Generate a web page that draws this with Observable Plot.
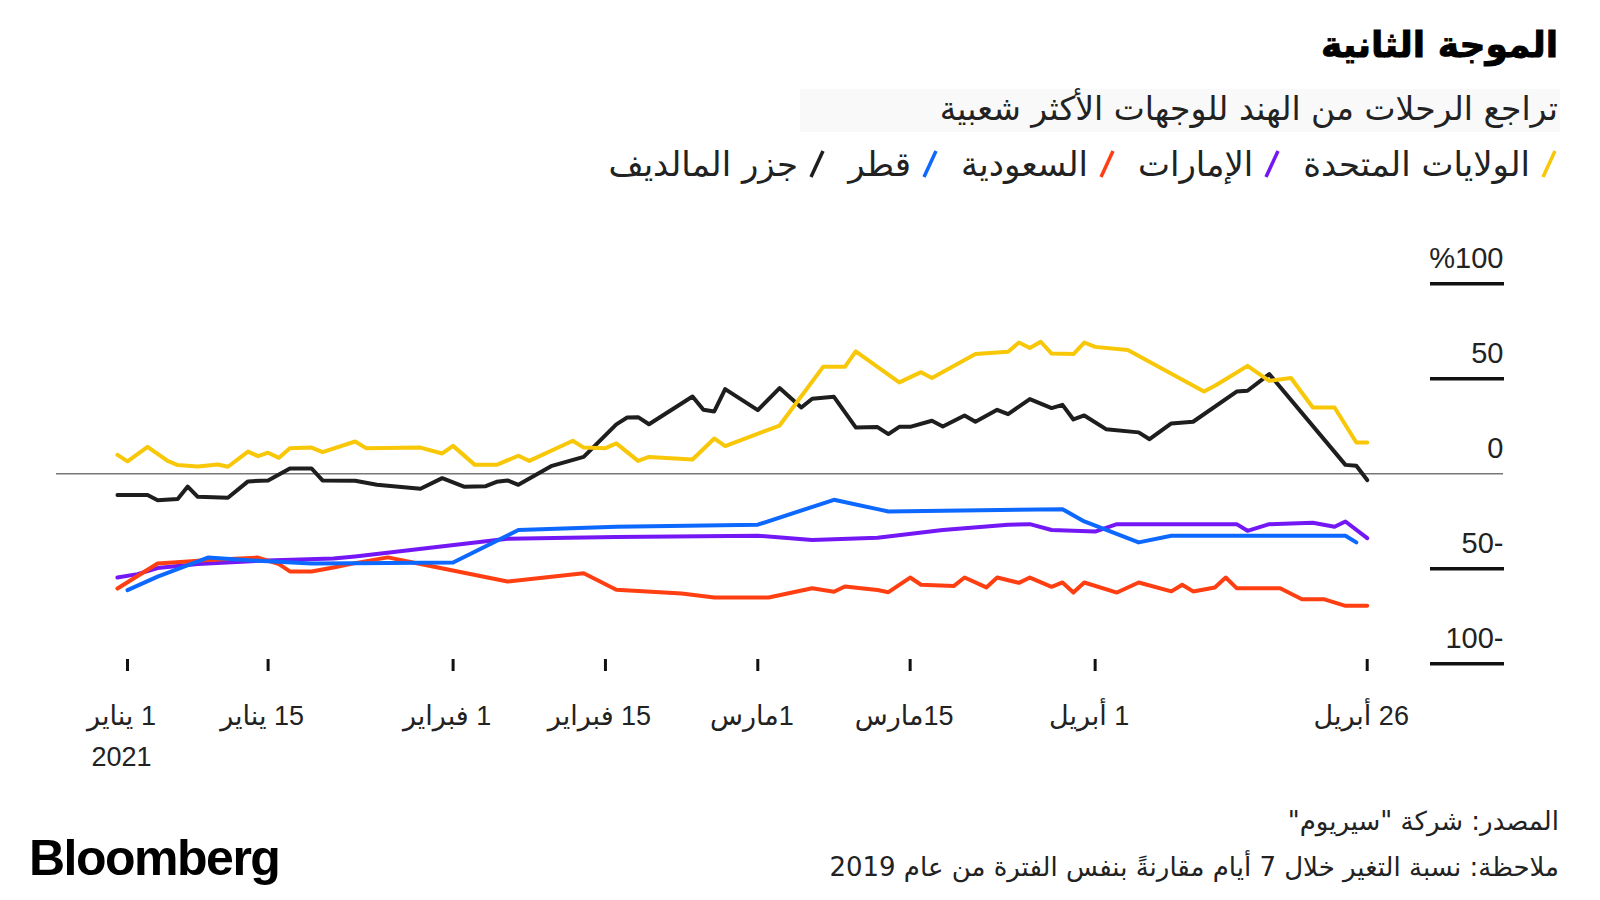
<!DOCTYPE html>
<html lang="ar">
<head>
<meta charset="utf-8">
<script src="https://cdn.jsdelivr.net/npm/d3@7"></script>
<script src="https://cdn.jsdelivr.net/npm/@observablehq/plot@0.6"></script>
<style>
  body { margin: 0; background: #fff; }
  #wrap { position: relative; width: 1600px; height: 900px; overflow: hidden; font-family: "DejaVu Sans", sans-serif; color: #111; }
  #chart { position: absolute; left: 0; top: 0; }
  .t { position: absolute; white-space: nowrap; line-height: 1; direction: rtl; }
  #title { right: 42px; top: 27px; font-size: 36px; font-weight: bold; color: #000; -webkit-text-stroke: 0.9px #000; }
  #subtitle { right: 42px; top: 92px; font-size: 33px; color: #222; }
  #subbg { position: absolute; left: 800px; top: 89px; width: 760px; height: 43px; background: #f9f9f9; }
  #legend { right: 42px; top: 147px; font-size: 34px; color: #222; display: flex; gap: 22px; align-items: center; }
  #legend .it { display: flex; align-items: center; gap: 10px; }
  #legend svg { width: 18px; height: 32px; display: block; }
  #source { right: 41px; top: 808px; font-size: 26px; color: #222; }
  #note { right: 41px; top: 854px; font-size: 26px; color: #222; }
  #logo { position: absolute; left: 29px; top: 833px; font-family: "Liberation Sans", Arial, sans-serif; font-weight: bold; font-size: 50px; line-height: 1; letter-spacing: -1.5px; color: #000; }
</style>
</head>
<body>
<div id="wrap">
  <div id="subbg"></div>
  <div id="chart"></div>
  <div class="t" id="title">الموجة الثانية</div>
  <div class="t" id="subtitle">تراجع الرحلات من الهند للوجهات الأكثر شعبية</div>
  <div class="t" id="legend"></div>
  <div class="t" id="source">المصدر: شركة "سيريوم"</div>
  <div class="t" id="note">ملاحظة: نسبة التغير خلال 7 أيام مقارنةً بنفس الفترة من عام 2019</div>
  <div id="logo">Bloomberg</div>
</div>
<script>
// ---- Data (day offsets from 1 Jan 2021, percent change vs 2019) ----
const seriesNames = ["الولايات المتحدة", "الإمارات", "السعودية", "قطر", "جزر المالديف"];
const seriesColors = ["#f7c708", "#7417f5", "#ff3f12", "#0c68ff", "#1e1e1e"];

const usDays = [-1,0,2,4,5,7,9,10,12,13,14,15,16,18,19,22,23,28,30,31,33,35,37,38,42,43,45,46,48,49,53,55,56,61,65,67,68,72,74,75,79,82,83,84,85,86,88,89,90,93,100,101,102,104,106,108,110,112,114,115];
const usVals = [10,6.5,14.2,6.8,4.6,3.8,4.9,3.7,11.7,9.3,11.1,8.4,13.5,13.8,11.4,17,13.5,13.8,10.7,14.7,4.7,4.7,9.5,6.8,17.4,13.8,13.5,16,6.8,8.9,7.5,18.6,14.6,25.4,56.3,56.3,64.4,48.1,53.5,50.4,63,64.2,69.1,66.2,69.5,63.3,63,69.1,66.8,65.1,43.3,46.3,49.8,56.8,48.9,50.4,34.9,34.9,16.5,16.5];

const aeDays = [-1,1,3,7,13,20,22,36,46,59,64,70,76,82,84,86,90,92,103,104,106,110,112,113,115];
const aeVals = [-54.6,-52.8,-49.6,-47.5,-45.8,-44.6,-43.5,-34.2,-33.2,-32.6,-34.9,-33.7,-29.6,-26.8,-26.5,-29.6,-30.4,-26.5,-26.5,-30,-26.5,-25.8,-27.9,-25.1,-33.9];

const saDays = [-1,3,6,8,13,15,16,18,20,22,25,28,36,43,46,52,55,60,64,66,67,70,71,73,74,77,78,80,81,83,84,86,87,88,89,92,94,97,98,99,101,102,103,107,109,111,113,115];
const saVals = [-60.4,-47.2,-46.2,-45.4,-44.1,-47.5,-51.4,-51.4,-49.3,-47,-44,-47.5,-56.7,-52.3,-61,-63,-65.1,-65.1,-60.2,-62.1,-59.3,-61.2,-62.3,-54.6,-58.4,-59.1,-54.6,-59.8,-54.6,-57.4,-54.6,-59.5,-57.2,-62.5,-57.2,-62.5,-57.2,-61.9,-58.4,-61.9,-59.8,-54.6,-60.2,-60.2,-66,-66,-69.5,-69.5];

const qaDays = [0,3,8,13,18,22,31,37,46,59,66,70,71,87,89,94,97,113,114];
const qaVals = [-61.2,-54.1,-44.1,-45.8,-47.2,-47.1,-46.7,-29.6,-27.9,-26.8,-13.7,-18.6,-19.8,-18.6,-25.1,-36.1,-32.6,-32.6,-36.1];

const mvDays = [-1,2,3,5,6,7,10,12,14,16,18,19,22,24,28,30,32,34,35,36,37,40,43,46,47,48,49,53,54,55,56,59,61,63,64,66,68,70,71,72,73,75,76,78,79,81,82,84,86,87,88,89,91,94,95,97,99,103,104,106,113,114,115];
const mvVals = [-11.2,-11.2,-13.9,-13.3,-6.7,-12.1,-12.6,-4.0,-3.5,2.8,2.8,-3.5,-3.7,-5.8,-7.9,-2.3,-6.8,-6.5,-4.2,-3.5,-5.8,4,8.9,26,29.6,29.8,26.1,40.7,33.7,32.8,44.6,33.5,45.1,34.9,39.5,40.5,24.4,24.6,20.9,24.7,24.7,27.9,24.9,30.7,27.4,33.7,31.4,39.3,34.6,36.3,28.6,30.7,23.5,21.8,18.2,26.5,27.4,43.3,43.7,52.5,4.7,4.2,-3.3];

const yTicks = [100, 50, 0, -50, -100];
const yLabels = ["%100", "50", "0", "50-", "100-"];
const xTickDays = [0, 14, 31, 45, 59, 73, 90, 115];
const xTickLabels = ["1 يناير\n2021", "15 يناير", "1 فبراير", "15 فبراير", "1مارس", "15مارس", "1 أبريل", "26 أبريل"];

// ---- Build table ----
const start = Date.UTC(2021, 0, 1);
const toDate = d => new Date(start + d * 86400000);
const drawOrder = [
  [seriesNames[1], aeDays, aeVals],
  [seriesNames[2], saDays, saVals],
  [seriesNames[3], qaDays, qaVals],
  [seriesNames[4], mvDays, mvVals],
  [seriesNames[0], usDays, usVals]
];
const rows = drawOrder.flatMap(([name, days, vals]) => days.map((d, i) => ({country: name, date: toDate(d), value: vals[i]})));
const xTickDates = xTickDays.map(toDate);
// RLM prefix so the day number sits to the right of the month name, as in RTL text
const xTicks = xTickDates.map((d, i) => ({date: d, label: "\u200F" + xTickLabels[i]}));

const chart = Plot.plot({
  width: 1600,
  height: 900,
  marginLeft: 56,
  marginRight: 171,
  marginTop: 250,
  marginBottom: 241,
  style: {fontFamily: '"Liberation Sans", "DejaVu Sans", sans-serif', fontSize: "27px", color: "#222", background: "transparent", overflow: "visible"},
  x: {type: "utc", domain: [toDate(0), toDate(14), toDate(115)], range: [127, 267.6, 1366.7]},
  y: {domain: [-100, 100], range: [663.3, 283.3]},
  color: {domain: seriesNames, range: seriesColors},
  marks: [
    Plot.ruleY([0], {stroke: "#777", strokeWidth: 1.5, insetRight: -74}),
    Plot.axisY({anchor: "right", ticks: yTicks.filter(d => d !== 0), tickSize: 74, strokeWidth: 3.5, stroke: "#111", tickFormat: () => "", label: null}),
    Plot.text(yTicks, {y: d => d, text: (d, i) => yLabels[i], frameAnchor: "right", dx: 74, dy: -16, textAnchor: "end", lineAnchor: "bottom", fontSize: 29, fill: "#222"}),
    Plot.axisX({ticks: xTickDates, tickSize: 12, strokeWidth: 3, stroke: "#111", tickFormat: () => "", label: null}),
    Plot.text(xTicks, {x: "date", text: "label", frameAnchor: "bottom", dy: 37, dx: -6, lineAnchor: "top", lineHeight: 1.5, fontSize: 27, fill: "#222"}),
    Plot.line(rows, {x: "date", y: "value", z: "country", stroke: "country", strokeWidth: 4})
  ]
});
document.getElementById("chart").appendChild(chart);

// ---- Legend ----
const legend = document.getElementById("legend");
seriesNames.forEach((name, i) => {
  const it = document.createElement("span");
  it.className = "it";
  it.innerHTML = `<svg viewBox="0 0 18 32"><line x1="3" y1="29" x2="15" y2="3" stroke="${seriesColors[i]}" stroke-width="3.5"/></svg><span>${name}</span>`;
  legend.appendChild(it);
});
</script>
</body>
</html>
